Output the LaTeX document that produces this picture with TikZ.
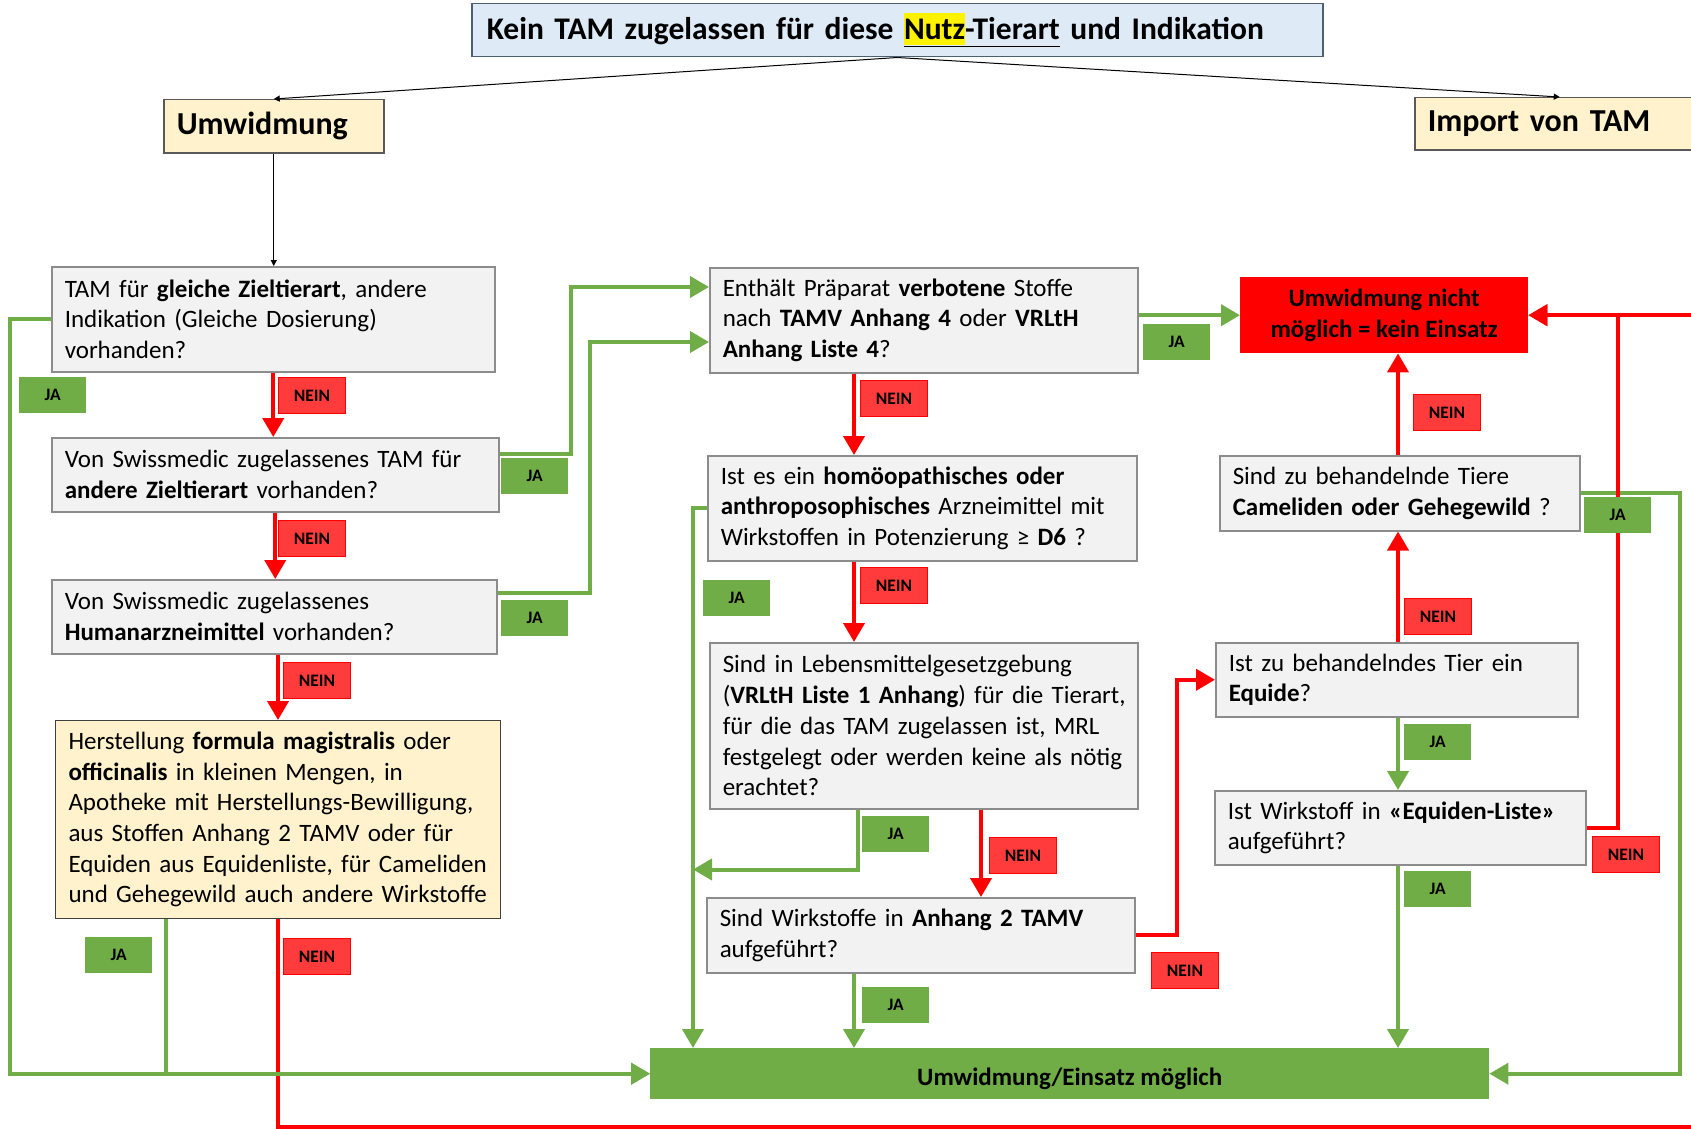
\documentclass[tikz,border=0pt]{standalone}
\usepackage{fontspec}
\setmainfont{Carlito}
\usetikzlibrary{arrows.meta,positioning,calc}

\definecolor{boxgray}{HTML}{F2F2F2}
\definecolor{framegray}{HTML}{8C8C8C}
\definecolor{titleblue}{HTML}{DEEBF7}
\definecolor{titleframe}{HTML}{4F5F73}
\definecolor{creme}{HTML}{FFF2CC}
\definecolor{jagreen}{HTML}{70AD47}
\definecolor{neinred}{HTML}{FF3B3B}
\definecolor{stopred}{HTML}{FF0000}

\newcommand\boxfont{\fontsize{25}{30.7}\selectfont}
\newcommand\headfont{\fontsize{31.5}{36}\selectfont\bfseries}
\newcommand\bigfont{\fontsize{32}{38}\selectfont\bfseries}
\newcommand\labelfont{\fontsize{17.5}{20}\selectfont\bfseries}

\tikzset{
  >={Triangle[width=21pt,length=19pt]},
  frage/.style={
    rectangle,
    draw=framegray, fill=boxgray,
    line width=1.5pt,
    anchor=north west,
    inner xsep=13pt, inner ysep=0pt,
    align=left,
    font=\boxfont},
  formel/.style={frage, fill=creme, draw=black!75, line width=1pt},
  kopf/.style={frage, fill=titleblue, draw=titleframe, inner xsep=15pt, font=\headfont},
  start/.style={frage, fill=creme, draw=black!65, font=\bigfont},
  stopbox/.style={
    rectangle, fill=stopred,
    anchor=north west, inner sep=0pt,
    align=center,
    font=\boxfont\bfseries},
  okbox/.style={stopbox, fill=jagreen},
  ja/.style={
    rectangle, fill=jagreen,
    anchor=north west, inner sep=0pt,
    minimum width=67pt, minimum height=36pt,
    font=\labelfont},
  nein/.style={ja, fill=neinred, draw=stopred, line width=1pt},
  jaline/.style={draw=jagreen, line width=4pt, ->},
  neinline/.style={draw=stopred, line width=4pt, ->},
  thinline/.style={draw=black, line width=1pt, -{Triangle[width=6pt,length=6pt]}},
}

\begin{document}
\begin{tikzpicture}[x=1pt,y=-1pt]

    \useasboundingbox (0,0) rectangle (1691,1129);
    \clip (0,0) rectangle (1691,1129);

    % kopf
    \node[kopf, text width=821pt, minimum height=53pt] (titel) at (471,3)
      {Kein TAM zugelassen für diese {\setlength\fboxsep{0pt}\underline{\colorbox{yellow}{\rule[-6pt]{0pt}{32pt}Nutz}-Tierart}} und Indikation};
    \node[start, text width=194pt, minimum height=53pt] (umw) at (163,99) {Umwidmung};
    \node[start, text width=264pt, minimum height=52pt] (import) at (1414,97) {Import von TAM};

    % fragen links
    \node[frage, text width=417pt, minimum height=105pt] (gleich) at (51,266)
      {TAM für \textbf{gleiche Zieltierart}, andere\\ Indikation (Gleiche Dosierung)\\ vorhanden?};
    \node[frage, text width=421pt, minimum height=74pt] (andere) at (51,437)
      {Von Swissmedic zugelassenes TAM für\\ \textbf{andere Zieltierart} vorhanden?};
    \node[frage, text width=419pt, minimum height=74pt] (human) at (51,579)
      {Von Swissmedic zugelassenes\\ \textbf{Humanarzneimittel} vorhanden?};
    \node[formel, text width=419pt, minimum height=198pt] (formula) at (55,720)
      {Herstellung \textbf{formula magistralis} oder\\ \textbf{officinalis} in kleinen Mengen, in\\
       Apotheke mit Herstellungs-Bewilligung,\\ aus Stoffen Anhang 2 TAMV oder für\\
       Equiden aus Equidenliste, für Cameliden\\ und Gehegewild auch andere Wirkstoffe};

    % fragen mitte
    \node[frage, text width=402pt, minimum height=105pt] (verboten) at (709,267)
      {Enthält Präparat \textbf{verbotene} Stoffe\\ nach \textbf{TAMV Anhang 4} oder \textbf{VRLtH}\\ \textbf{Anhang Liste 4}?};
    \node[frage, text width=403pt, minimum height=105pt] (homoeo) at (707,455)
      {Ist es ein \textbf{homöopathisches oder}\\ \textbf{anthroposophisches} Arzneimittel mit\\ Wirkstoffen in Potenzierung ≥ \textbf{D6} ?};
    \node[frage, text width=402pt, minimum height=166pt] (lebensm) at (709,642)
      {Sind in Lebensmittelgesetzgebung\\ \mbox{(\textbf{VRLtH Liste 1 Anhang}) für die Tierart,}\\ für die das TAM zugelassen ist, MRL\\
       \mbox{festgelegt oder werden keine als nötig}\\ erachtet?};
    \node[frage, text width=402pt, minimum height=75pt] (anhang) at (706,897)
      {Sind Wirkstoffe in \textbf{Anhang 2 TAMV}\\ aufgeführt?};

    % fragen rechts
    \node[stopbox, minimum width=288pt, minimum height=76pt] (nicht) at (1240,277)
      {Umwidmung nicht\\ möglich = kein Einsatz};
    \node[frage, text width=334pt, minimum height=75pt] (camel) at (1219,455)
      {Sind zu behandelnde Tiere\\ \textbf{Cameliden oder Gehegewild} ?};
    \node[frage, text width=336pt, minimum height=74pt] (equide) at (1215,642)
      {Ist zu behandelndes Tier ein\\ \textbf{Equide}?};
    \node[frage, text width=345pt, minimum height=74pt] (eqliste) at (1214,790)
      {Ist Wirkstoff in \textbf{«Equiden-Liste»}\\ aufgeführt?};

    \node[okbox, minimum width=839pt, minimum height=51pt] (einsatz) at (650,1048)
      {\raisebox{-5pt}[\height][\depth]{Umwidmung/Einsatz möglich}};

    % schienen
    \coordinate (railL) at (10,0);
    \coordinate (fja) at (166,0);
    \coordinate (railH) at (693,0);
    \coordinate (cx) at (854,0);
    \coordinate (j6) at (858,0);
    \coordinate (n6) at (981,0);
    \coordinate (mx) at (1398,0);
    \coordinate (railNein) at (1618,0);
    \coordinate (railR) at (1680,0);
    \coordinate (railRed) at (1700,1127);

    % verbindungen
    \draw[thinline] (titel.south) -- (umw.north);
    \draw[thinline] (titel.south) -- (import.north);
    \draw[thinline] (umw.south) -- (umw.south |- gleich.north);

    \draw[neinline] (gleich.south) -- (gleich.south |- andere.north);
    \draw[neinline] (andere.south) -- (andere.south |- human.north);
    \draw[neinline] (formula.north |- human.south) -- (formula.north);
    \draw[neinline] (formula.south) |- (railRed) |- (nicht.east);

    \draw[jaline] (gleich.west) -- (gleich.west -| railL) |- (einsatz.west);
    \draw[jaline] (formula.south -| fja) |- (einsatz.west);
    \draw[jaline] ([yshift=-17pt]andere.north east) -- ++(71,0) |- ([yshift=-20pt]verboten.north west);
    \draw[jaline] ([yshift=-14pt]human.north east) -- ++(92,0) |- ([yshift=-75pt]verboten.north west);

    \draw[jaline] (verboten.east |- nicht.west) -- (nicht.west);
    \draw[neinline] (verboten.south -| cx) -- (homoeo.north -| cx);
    \draw[neinline] (homoeo.south -| cx) -- (lebensm.north -| cx);
    \draw[jaline] (homoeo.west) -- (homoeo.west -| railH) -- (einsatz.north -| railH);
    \draw[jaline] (lebensm.south -| j6) |- ([yshift=-60pt]lebensm.south -| railH);
    \draw[neinline] (lebensm.south -| n6) -- (anhang.north -| n6);
    \draw[jaline] (anhang.south -| cx) -- (einsatz.north -| cx);
    \draw[neinline] (anhang.east) -- ++(41,0) |- (equide.west);

    \draw[neinline] (equide.north -| mx) -- (camel.south -| mx);
    \draw[neinline] (camel.north -| mx) -- (nicht.south -| mx);
    \draw[jaline] (camel.east) -- (camel.east -| railR) |- (einsatz.east);
    \draw[jaline] (equide.south -| mx) -- (eqliste.north -| mx);
    \draw[neinline] (eqliste.east) -- (eqliste.east -| railNein) |- (nicht.east);
    \draw[jaline] (eqliste.south -| mx) -- (einsatz.north -| mx);

    % ja / nein
    \foreach \n/\x/\y in {ja1/19/377, ja2/501/458, ja3/501/600, ja4/85/937, ja5/1143/324,
                          ja6/703/580, ja7/862/816, ja8/862/987, ja9/1584/497, ja10/1404/724, ja11/1404/871}
      \node[ja] (\n) at (\x,\y) {JA};
    \foreach \n/\x/\y in {nein1/278/377, nein2/278/520, nein3/283/662, nein4/283/938, nein5/860/380,
                          nein6/860/567, nein7/989/837, nein8/1151/952, nein9/1404/598, nein10/1413/394, nein11/1592/836}
      \node[nein] (\n) at (\x,\y) {NEIN};

\end{tikzpicture}
\end{document}
